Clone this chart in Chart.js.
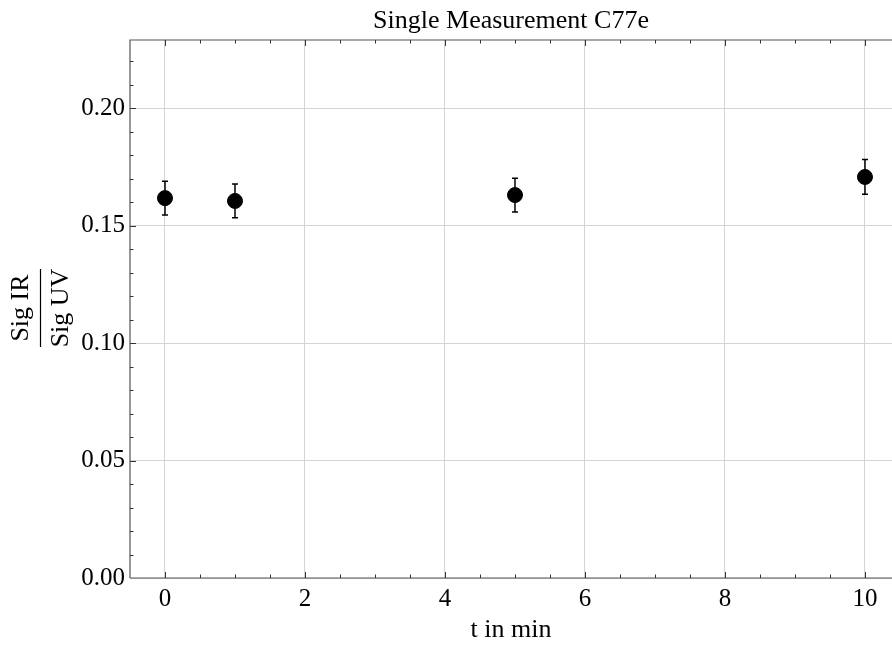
<!DOCTYPE html>
<html>
<head>
<meta charset="utf-8">
<script src="https://cdn.jsdelivr.net/npm/chart.js@4/dist/chart.umd.min.js"></script>
<style>
body{margin:0;background:#fff}
#wrap{width:892px;height:646px}
</style>
</head>
<body>
<div id="wrap"><canvas id="myChart"></canvas></div>
<script>
const times = [0, 1, 5, 10];
const ratios = [0.1617, 0.1605, 0.1630, 0.1707];
const errors = [0.0072, 0.0072, 0.0072, 0.0074];
const xTicks = [0, 2, 4, 6, 8, 10];
const yTicks = [0, 0.05, 0.10, 0.15, 0.20];

const serif = "'Liberation Serif', 'DejaVu Serif', serif";

// error bars, drawn under the points
const errorBars = {
  id: 'errorBars',
  beforeDatasetsDraw(chart) {
    const ctx = chart.ctx;
    const xs = chart.scales.x, ys = chart.scales.y;
    ctx.save();
    ctx.strokeStyle = '#000';
    ctx.lineWidth = 1.5;
    times.forEach((t, i) => {
      const px = xs.getPixelForValue(t);
      const top = ys.getPixelForValue(ratios[i] + errors[i]);
      const bot = ys.getPixelForValue(ratios[i] - errors[i]);
      ctx.beginPath();
      ctx.moveTo(px, top); ctx.lineTo(px, bot);
      ctx.moveTo(px - 3, top); ctx.lineTo(px + 3, top);
      ctx.moveTo(px - 3, bot); ctx.lineTo(px + 3, bot);
      ctx.stroke();
    });
    ctx.restore();
  }
};

// frame with inward ticks + fraction label on y
const frame = {
  id: 'frame',
  afterDraw(chart) {
    const ctx = chart.ctx;
    const a = chart.chartArea;
    const xs = chart.scales.x, ys = chart.scales.y;
    ctx.save();
    ctx.strokeStyle = '#555';
    ctx.lineWidth = 1.2;
    ctx.beginPath();
    ctx.moveTo(a.left, a.bottom); ctx.lineTo(a.left, a.top); ctx.lineTo(a.right, a.top);
    ctx.moveTo(a.left, a.bottom); ctx.lineTo(a.right, a.bottom);
    ctx.stroke();

    ctx.strokeStyle = '#333';
    ctx.lineWidth = 1;
    ctx.beginPath();
    for (let v = -0.5; v <= xs.max; v += 0.5) {
      const px = Math.round(xs.getPixelForValue(v)) + 0.5;
      if (px <= a.left + 1) continue;
      const len = (Math.abs(v % 2) < 1e-6) ? 6 : 3.5;
      ctx.moveTo(px, a.bottom); ctx.lineTo(px, a.bottom - len);
      ctx.moveTo(px, a.top); ctx.lineTo(px, a.top + len);
    }
    for (let k = 1; k * 0.01 <= ys.max; k++) {
      const py = Math.round(ys.getPixelForValue(k * 0.01)) + 0.5;
      const len = (k % 5 === 0) ? 6 : 3.5;
      ctx.moveTo(a.left, py); ctx.lineTo(a.left + len, py);
    }
    ctx.stroke();

    // y axis label as a fraction
    ctx.translate(40, 308);
    ctx.rotate(-Math.PI / 2);
    ctx.fillStyle = '#000';
    ctx.font = '26px ' + serif;
    ctx.textAlign = 'center';
    ctx.textBaseline = 'alphabetic';
    ctx.fillText('Sig IR', 0, -12);
    ctx.fillText('Sig UV', 0, 28);
    ctx.strokeStyle = '#000';
    ctx.lineWidth = 1.2;
    ctx.beginPath();
    ctx.moveTo(-39, 0.5); ctx.lineTo(39, 0.5);
    ctx.stroke();
    ctx.restore();
  }
};

const ctx = document.getElementById('myChart');
const myChart = new Chart(ctx, {
  type: 'scatter',
  data: {
    datasets: [{
      data: times.map((t, i) => ({x: t, y: ratios[i]})),
      backgroundColor: '#000',
      borderColor: '#000',
      pointRadius: 7.5,
      pointHoverRadius: 7.5
    }]
  },
  options: {
    responsive: true,
    maintainAspectRatio: false,
    animation: false,
    layout: {padding: 0, autoPadding: false},
    plugins: {
      legend: {display: false},
      tooltip: {enabled: false},
      title: {
        display: true,
        fullSize: false,
        text: 'Single Measurement C77e',
        color: '#000',
        font: {family: serif, size: 26, weight: 'normal', lineHeight: 1},
        padding: {top: 8, bottom: 6}
      }
    },
    scales: {
      x: {
        type: 'linear',
        min: -0.5,
        max: 10.386,
        afterBuildTicks: s => { s.ticks = xTicks.map(v => ({value: v})); },
        afterFit: s => { s.height = 68; s.paddingLeft = 0; s.paddingRight = 0; },
        grid: {color: '#d4d4d4', lineWidth: 1, drawTicks: false},
        border: {display: false},
        ticks: {color: '#000', font: {family: serif, size: 25}, padding: 6, maxRotation: 0},
        title: {display: true, text: 't in min', color: '#000', font: {family: serif, size: 26}, padding: {top: 5, bottom: 0}}
      },
      y: {
        type: 'linear',
        min: 0,
        max: 0.229,
        afterBuildTicks: s => { s.ticks = yTicks.map(v => ({value: v})); },
        afterFit: s => { s.width = 130; s.paddingTop = 0; s.paddingBottom = 0; },
        grid: {color: '#d4d4d4', lineWidth: 1, drawTicks: false},
        border: {display: false},
        ticks: {color: '#000', font: {family: serif, size: 25}, padding: 5, callback: v => v.toFixed(2)}
      }
    }
  },
  plugins: [errorBars, frame]
});
</script>
</body>
</html>
